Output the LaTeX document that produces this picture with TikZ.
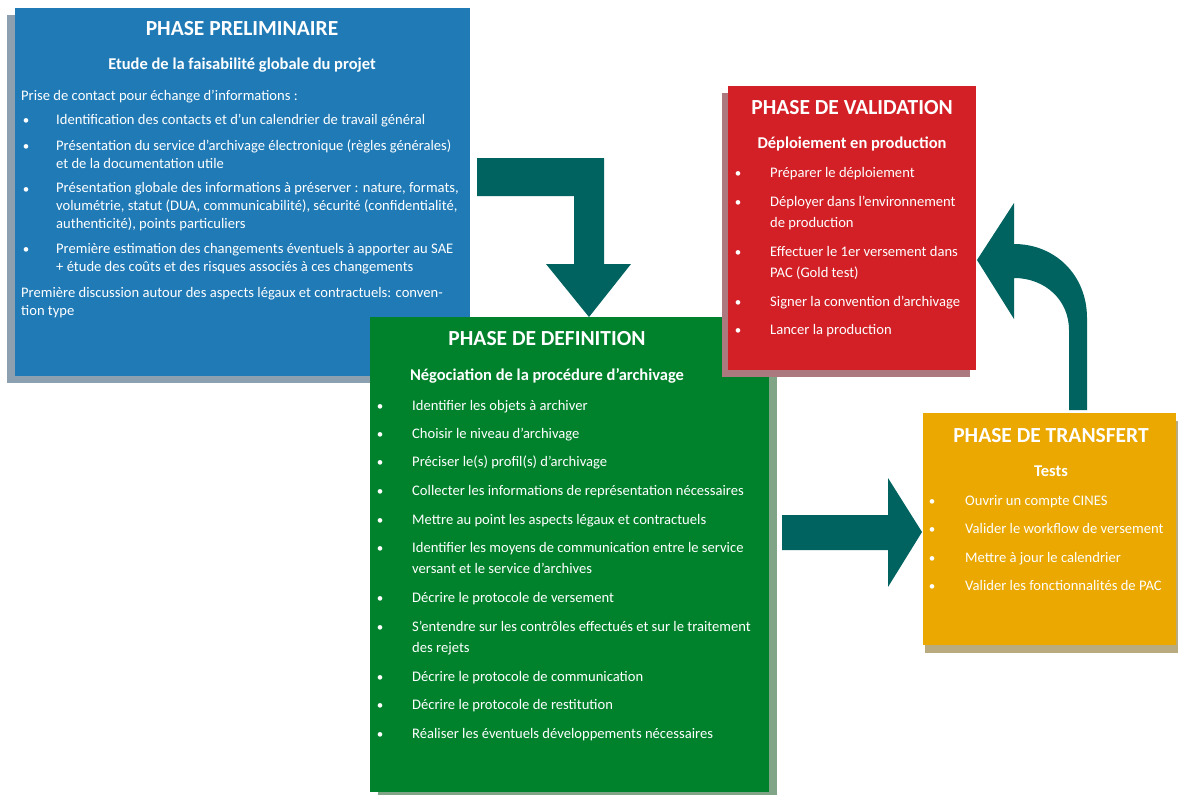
\documentclass[tikz,border=0pt]{standalone}
\usepackage{fontspec}
\setmainfont{Carlito}
\usetikzlibrary{shadows}
\definecolor{phaseblue}{RGB}{31,122,182}
\definecolor{phasegreen}{RGB}{0,130,44}
\definecolor{phasered}{RGB}{210,32,38}
\definecolor{phaseorange}{RGB}{234,168,0}
\definecolor{arrowteal}{RGB}{0,99,96}
\definecolor{shadowblue}{RGB}{140,160,176}
\definecolor{shadowgreen}{RGB}{128,164,134}
\definecolor{shadowred}{RGB}{172,122,126}
\definecolor{shadoworange}{RGB}{186,170,128}

\begin{document}
\begin{tikzpicture}[x=1pt,y=-1pt,
    phasebox/.style={rectangle,inner sep=0pt,anchor=north west},
    phasetitle/.style={text=white,font=\fontsize{21.5}{24}\selectfont\bfseries,
      anchor=base,inner sep=0pt},
    phasesub/.style={text=white,font=\fontsize{16.5}{18}\selectfont\bfseries,
      anchor=base,inner sep=0pt},
    itemtext/.style={text=white,font=\fontsize{14.6}{#1}\selectfont,
      anchor=base west,align=left,inner sep=0pt},
    itemtext/.default=18,
    bulletdot/.style={text=white,font=\fontsize{13}{18}\selectfont,
      anchor=base,inner sep=0pt},
    blockarrow/.style={fill=arrowteal}]
  \useasboundingbox (0,0) rectangle (1178,795);

  % phase preliminaire (y = ligne de base de la derniere ligne)
  \node[phasebox,fill=phaseblue,minimum width=455pt,minimum height=368pt,
        drop shadow={shadow xshift=-8pt,shadow yshift=-7pt,fill=shadowblue,opacity=1}]
    (prelim) at (15,8) {};
  \node[phasetitle] (prelimtitle) at (242,35) {PHASE PRELIMINAIRE};
  \node[phasesub] (prelimsub) at (242,69) {Etude de la faisabilité globale du projet};
  \node[itemtext] (prelimintro) at (21,100) {Prise de contact pour échange d’informations :};
  \foreach \d/\y/\t [count=\i] in {
      124/124/{Identification des contacts et d’un calendrier de travail général},
      150/168/{Présentation du service d’archivage électronique (règles générales)\\et de la documentation utile},
      193/228/{Présentation globale des informations à préserver : nature, formats,\\volumétrie, statut (DUA, communicabilité), sécurité (confidentialité,\\authenticité), points particuliers},
      253/271/{Première estimation des changements éventuels à apporter au SAE\\+ étude des coûts et des risques associés à ces changements}} {
    \node[bulletdot] (prelimdot\i) at (26,\d) {•};
    \node[itemtext] (prelimitem\i) at (56,\y) {\t};
  }
  \node[itemtext] (prelimend) at (21,315)
    {Première discussion autour des aspects légaux et contractuels: conven-\\tion type};

  % fleche vers la definition
  \fill[blockarrow] (477,158) -- (604,158) -- (604,264) -- (631,264) -- (589,317)
    -- (546,264) -- (574,264) -- (574,196) -- (477,196) -- cycle;

  % phase de definition
  \node[phasebox,fill=phasegreen,minimum width=399pt,minimum height=475pt,
        drop shadow={shadow xshift=8pt,shadow yshift=-7pt,fill=shadowgreen,opacity=1}]
    (definition) at (370,317) {};
  \node[phasetitle] (definitiontitle) at (547,345) {PHASE DE DEFINITION};
  \node[phasesub] (definitionsub) at (547,380) {Négociation de la procédure d’archivage};
  \foreach \d/\y/\t [count=\i] in {
      410/410/{Identifier les objets à archiver},
      438/438/{Choisir le niveau d’archivage},
      466/466/{Préciser le(s) profil(s) d’archivage},
      495/495/{Collecter les informations de représentation nécessaires},
      524/524/{Mettre au point les aspects légaux et contractuels},
      552/573/{Identifier les moyens de communication entre le service\\versant et le service d’archives},
      602/602/{Décrire le protocole de versement},
      631/652/{S’entendre sur les contrôles effectués et sur le traitement\\des rejets},
      681/681/{Décrire le protocole de communication},
      709/709/{Décrire le protocole de restitution},
      738/738/{Réaliser les éventuels développements nécessaires}} {
    \node[bulletdot] (definitiondot\i) at (380,\d) {•};
    \node[itemtext=21] (definitionitem\i) at (412,\y) {\t};
  }

  % phase de validation
  \node[phasebox,fill=phasered,minimum width=248pt,minimum height=284pt,
        drop shadow={shadow xshift=-6pt,shadow yshift=-7pt,fill=shadowred,opacity=1}]
    (validation) at (728,86) {};
  \node[phasetitle] (validationtitle) at (852,114) {PHASE DE VALIDATION};
  \node[phasesub] (validationsub) at (852,148) {Déploiement en production};
  \foreach \d/\y/\t [count=\i] in {
      177/177/{Préparer le déploiement},
      206/227/{Déployer dans l’environnement\\de production},
      256/277/{Effectuer le 1er versement dans\\PAC (Gold test)},
      306/306/{Signer la convention d’archivage},
      334/334/{Lancer la production}} {
    \node[bulletdot] (validationdot\i) at (738,\d) {•};
    \node[itemtext=21] (validationitem\i) at (770,\y) {\t};
  }

  % fleche vers le transfert
  \fill[blockarrow] (782,515) -- (888,515) -- (888,478) -- (922,532) -- (888,587)
    -- (888,550) -- (782,550) -- cycle;

  % fleche retour vers la validation
  \fill[blockarrow] (1087,410) -- (1087,318) .. controls (1087,275) and (1055,244) .. (1014,244)
    -- (1014,203) -- (977,260) -- (1014,319) -- (1014,278)
    .. controls (1045,278) and (1069,300) .. (1069,330) -- (1069,410) -- cycle;

  % phase de transfert
  \node[phasebox,fill=phaseorange,minimum width=253pt,minimum height=232pt,
        drop shadow={shadow xshift=2pt,shadow yshift=-8pt,fill=shadoworange,opacity=1}]
    (transfert) at (923,413) {};
  \node[phasetitle] (transferttitle) at (1051,442) {PHASE DE TRANSFERT};
  \node[phasesub] (transfertsub) at (1051,476) {Tests};
  \foreach \y/\t [count=\i] in {
      505/{Ouvrir un compte CINES},
      533/{Valider le workflow de versement},
      562/{Mettre à jour le calendrier},
      590/{Valider les fonctionnalités de PAC}} {
    \node[bulletdot] (transfertdot\i) at (932,\y) {•};
    \node[itemtext] (transfertitem\i) at (965,\y) {\t};
  }
\end{tikzpicture}
\end{document}
